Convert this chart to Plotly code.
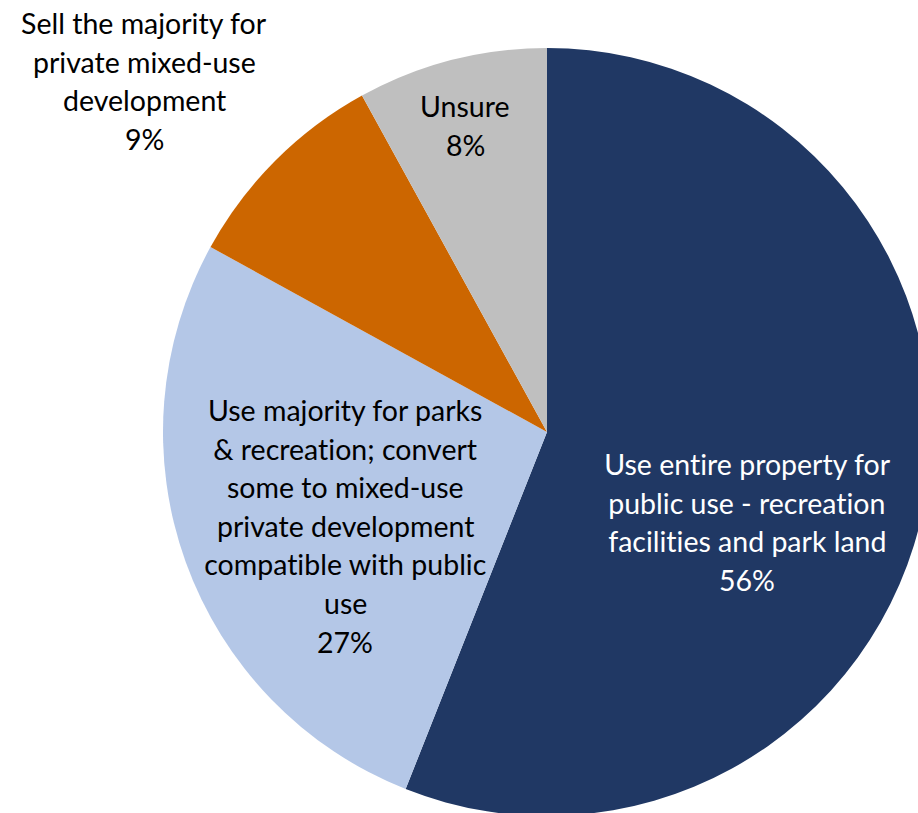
import plotly.graph_objects as go

# Data
categories = [
    "Use entire property for public use - recreation facilities and park land",
    "Use majority for parks & recreation; convert some to mixed-use private development compatible with public use",
    "Sell the majority for private mixed-use development",
    "Unsure",
]
values = [56, 27, 9, 8]
colors = ["#203864", "#B4C7E7", "#CC6600", "#BFBFBF"]
label_lines = [
    ["Use entire property for", "public use - recreation", "facilities and park land"],
    ["Use majority for parks", "& recreation; convert", "some to mixed-use",
     "private development", "compatible with public", "use"],
    ["Sell the majority for", "private mixed-use", "development"],
    ["Unsure"],
]
label_colors = ["white", "black", "black", "black"]

# Layout (pixels)
W, H = 940, 820
CX, CY, R = 547, 432, 384
label_pos = [(747, 464), (345, 410), (144, 23), (465, 106)]
LINE = 38.6
FONT = dict(family="Lato, Carlito, Calibri, sans-serif", size=28.5)

fig = go.Figure(go.Pie(
    labels=categories, values=values, sort=False, direction="clockwise",
    rotation=0, marker=dict(colors=colors, line=dict(width=0)),
    textinfo="none", hoverinfo="label+percent",
    domain=dict(x=[(CX - R) / W, (CX + R) / W], y=[1 - (CY + R) / H, 1 - (CY - R) / H]),
))

total = sum(values)
annotations = []
for lines, v, col, (px, py) in zip(label_lines, values, label_colors, label_pos):
    all_lines = lines + [f"{round(100 * v / total)}%"]
    for i, t in enumerate(all_lines):
        annotations.append(dict(
            text=t, x=px / W, y=1 - (py + i * LINE) / H, xref="paper", yref="paper",
            xanchor="center", yanchor="middle", showarrow=False,
            font=dict(FONT, color=col),
        ))

fig.update_layout(
    width=W, height=H, margin=dict(l=0, r=0, t=0, b=0),
    paper_bgcolor="white", plot_bgcolor="white", showlegend=False,
    annotations=annotations,
)

post = (
    "document.body.style.margin='0';document.body.style.overflow='hidden';"
    "var s=document.createElement('style');"
    "s.textContent='text{font-variant-ligatures:none !important;font-feature-settings:\"liga\" 0 !important;}';"
    "document.head.appendChild(s);"
)
fig.write_html("out.html", config={"displayModeBar": False}, post_script=post)
